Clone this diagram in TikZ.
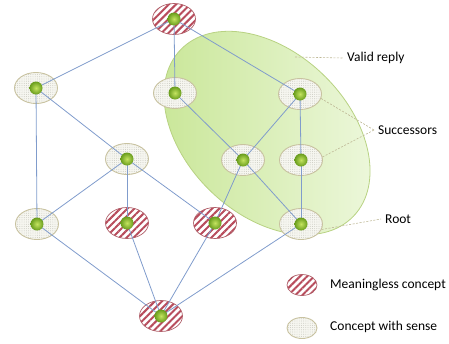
\documentclass[tikz,border=0pt]{standalone}
\usepackage{fontspec}
\setmainfont{Carlito}
\usepackage{tikz}
\usetikzlibrary{shapes.geometric,patterns.meta}
\definecolor{edgeblue}{RGB}{128,156,204}
\definecolor{rimsense}{RGB}{200,194,160}
\definecolor{dotsense}{RGB}{196,196,186}
\definecolor{basesense}{RGB}{246,246,240}
\definecolor{stripered}{RGB}{184,76,92}
\definecolor{rimred}{RGB}{176,96,106}
\definecolor{balllight}{RGB}{196,228,96}
\definecolor{balldark}{RGB}{104,156,28}
\definecolor{zoneA}{RGB}{200,230,150}
\definecolor{zoneB}{RGB}{238,248,222}
\definecolor{zonerim}{RGB}{184,210,130}
\definecolor{callout}{RGB}{190,184,150}
\tikzset{
	sense/.style={ellipse, minimum width=43pt, minimum height=31pt, draw=rimsense, line width=0.9pt,
		preaction={fill=basesense}, pattern={Dots[distance=2.2pt, radius=0.45pt]}, pattern color=dotsense},
	meaningless/.style={ellipse, minimum width=43pt, minimum height=31pt, draw=rimred, line width=0.7pt,
		preaction={fill=white}, pattern={Lines[angle=45, distance=5pt, line width=2pt]}, pattern color=stripered},
	edge/.style={edgeblue, line width=0.8pt},
	callline/.style={callout, dashed, dash pattern=on 2pt off 1.5pt, line width=0.6pt},
	tag/.style={anchor=west, inner sep=0pt, inner xsep=4pt, font=\fontsize{13.5}{16}\selectfont}
}
\newcommand{\sense}[3] % {name}{x}{y}
{
	\node [sense] (#1) at (#2,#3) {};
}
\newcommand{\senseless}[3] % {name}{x}{y}
{
	\node [meaningless] (#1) at (#2,#3) {};
}
\newcommand{\ball}[1] % {name}
{
	\shade [inner color=balllight, outer color=balldark] (#1.center) circle [radius=6.5];
}
\begin{document}
\begin{tikzpicture}[x=1pt, y=-1pt]
		\useasboundingbox (0,0) rectangle (449,343);
		
		% zone of valid replies
		\shade [left color=zoneA, right color=zoneB, draw=zonerim, line width=0.8pt]
			(267,133) ellipse [x radius=120, y radius=81, rotate=-44];
		
		\senseless{top}{174}{19}
		\sense{l1}{36}{88}
		\sense{m1}{175}{93}
		\sense{r1}{300}{94}
		\sense{l2}{127}{159}
		\sense{m2}{243}{160}
		\sense{r2}{301}{160}
		\sense{a}{37}{224}
		\senseless{b}{127}{223}
		\senseless{c}{215}{223}
		\sense{d}{301}{224}
		\senseless{bot}{161}{316}
		
		\draw [edge] (top.center) -- (l1.center);
		\draw [edge] (top.center) -- (m1.center);
		\draw [edge] (top.center) -- (r1.center);
		\draw [edge] (l1.center) -- (a.center);
		\draw [edge] (l1.center) -- (l2.center);
		\draw [edge] (m1.center) -- (m2.center);
		\draw [edge] (r1.center) -- (m2.center);
		\draw [edge] (r1.center) -- (r2.center);
		\draw [edge] (l2.center) -- (a.center);
		\draw [edge] (l2.center) -- (b.center);
		\draw [edge] (l2.center) -- (c.center);
		\draw [edge] (m2.center) -- (c.center);
		\draw [edge] (m2.center) -- (d.center);
		\draw [edge] (r2.center) -- (d.center);
		\draw [edge] (a.center) -- (bot.center);
		\draw [edge] (b.center) -- (bot.center);
		\draw [edge] (c.center) -- (bot.center);
		\draw [edge] (d.center) -- (bot.center);
		
		\foreach \n in {top,l1,m1,r1,l2,m2,r2,a,b,c,d,bot} {
			\ball{\n}
		}
		
		% callouts
		\node [tag] (valid) at (343,58) {Valid reply};
		\node [tag] (succ) at (374,130) {Successors};
		\node [tag] (root) at (381,219) {Root};
		\coordinate (validfoot) at (295,57);
		\draw [callline] (validfoot) -- (valid.west);
		\draw [callline] (r1.-12) -- (succ.west);
		\draw [callline] (r2.8) -- (succ.west);
		\draw [callline] (d.-15) -- (root.west);
		
		% legend
		\node [meaningless, minimum width=30pt, minimum height=21pt] (keybad) at (302,285) {};
		\node [sense, minimum width=30pt, minimum height=21pt] (keygood) at (302,328) {};
		\node [tag] (keybadtext) at (326,285) {Meaningless concept};
		\node [tag] (keygoodtext) at (326,327) {Concept with sense};
		
\end{tikzpicture}
\end{document}
